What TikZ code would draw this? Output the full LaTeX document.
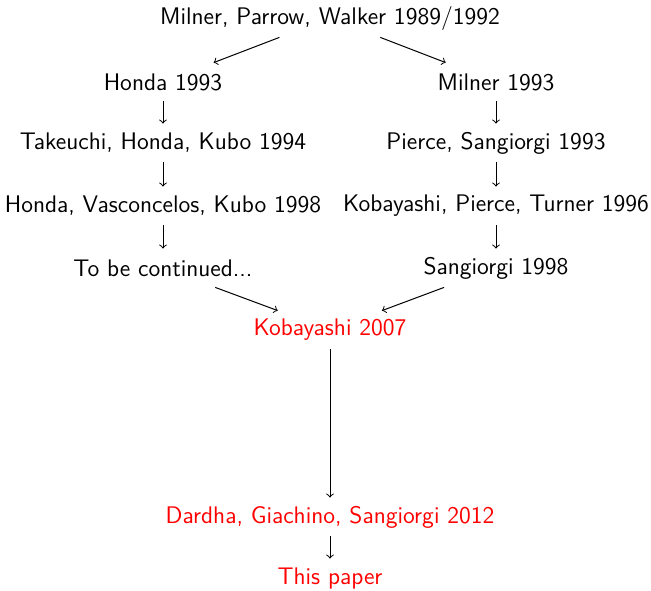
\documentclass[tikz,border=0pt]{standalone}
\begin{document}
\begin{tikzpicture}[x=0.5pt,y=-0.5pt,
  every node/.style={font=\sffamily\fontsize{12}{14}\selectfont},
  ref/.style={inner xsep=2pt,inner ysep=0pt,minimum height=19pt},
  hot/.style={ref,text=red},
  arr/.style={->,line width=0.5pt}]
\useasboundingbox (0,0) rectangle (651,590);
\node[ref] (top) at (330,18) {Milner, Parrow, Walker 1989/1992};
\node[ref] (h93) at (163,82) {Honda 1993};
\node[ref] (m93) at (496,82) {Milner 1993};
\node[ref] (thk) at (163,143) {Takeuchi, Honda, Kubo 1994};
\node[ref] (ps) at (496,143) {Pierce, Sangiorgi 1993};
\node[ref] (hvk) at (163,206) {Honda, Vasconcelos, Kubo 1998};
\node[ref] (kpt) at (496,206) {Kobayashi, Pierce, Turner 1996};
\node[ref] (tbc) at (163,268) {To be continued...};
\node[ref] (s98) at (496,268) {Sangiorgi 1998};
\node[hot] (k07) at (330,330) {Kobayashi 2007};
\node[hot] (dgs) at (330,517) {Dardha, Giachino, Sangiorgi 2012};
\node[hot] (tp) at (330,578) {This paper};
\draw[arr] (top) -- (h93);
\draw[arr] (top) -- (m93);
\draw[arr] (h93) -- (thk);
\draw[arr] (thk) -- (hvk);
\draw[arr] (hvk) -- (tbc);
\draw[arr] (m93) -- (ps);
\draw[arr] (ps) -- (kpt);
\draw[arr] (kpt) -- (s98);
\draw[arr] (tbc) -- (k07);
\draw[arr] (s98) -- (k07);
\draw[arr] (k07) -- (dgs);
\draw[arr] (dgs) -- (tp);
\end{tikzpicture}
\end{document}
